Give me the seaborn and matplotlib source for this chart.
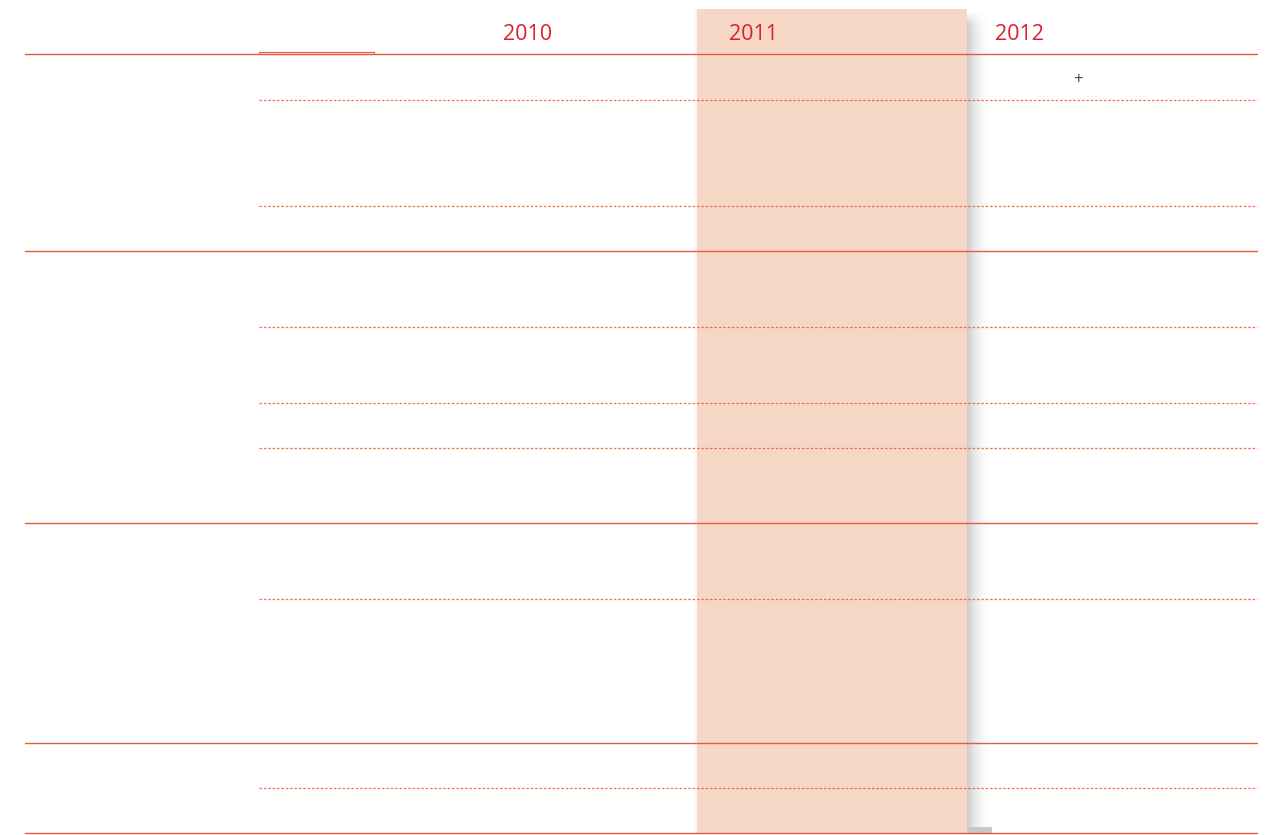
import numpy as np
import matplotlib.pyplot as plt
import seaborn as sns
from matplotlib.patches import Rectangle

# column headers of the table
years = ["2010", "2011", "2012"]
highlight_year = "2011"
note_mark = "+"

# layout (pixels) -------------------------------------------------------
W, H = 1274, 835
year_x = [528, 753, 1019]
solid_rules = [54, 251, 523, 743, 833]
dotted_rules = [100, 206, 327, 403, 448, 599, 788]
red = "#dc1f2e"
rule_col = "#e8583a"

sns.set_theme(style="white")
plt.rcParams["font.family"] = ["Open Sans", "DejaVu Sans"]

fig = plt.figure(figsize=(W / 100, H / 100), dpi=100)
ax = fig.add_axes([0, 0, 1, 1])
ax.set_xlim(0, W)
ax.set_ylim(H, 0)
ax.axis("off")

# highlighted column with soft shadow on the right
hx0, hx1, hy0, hy1 = 697, 967, 9, 833
gx = np.linspace(1, 0, 64) ** 2.2
gy = np.clip(np.linspace(0, 1, 400) * 60, 0, 1)
shadow = np.zeros((400, 64, 4))
shadow[..., :3] = 0.5
shadow[..., 3] = gy[:, None] * gx[None, :] * 0.4
ax.imshow(shadow, extent=(hx1, hx1 + 26, hy1 - 6, hy0 + 2), aspect="auto", zorder=1)
edge = np.zeros((1, 16, 4))
edge[..., :3] = 0.5
edge[..., 3] = np.linspace(0, 1, 16) ** 2 * 0.08
ax.imshow(edge, extent=(hx0 - 5, hx0, hy1, hy0), aspect="auto", zorder=1)
ax.add_patch(Rectangle((hx1, 827), 25, 6, color="#c8c8c8", lw=0, zorder=1))
ax.add_patch(Rectangle((hx0, hy0), hx1 - hx0, hy1 - hy0, color="#f6d7c6", lw=0, zorder=2))

# rules
for y in solid_rules:
    ax.plot([25, 1257], [y, y], color=rule_col, lw=1.0, zorder=3)
for y in dotted_rules:
    ax.plot([259, 1257], [y, y], color=rule_col, lw=0.9, ls=(0, (2, 1.5)), alpha=0.85, zorder=3)
ax.add_patch(Rectangle((259, 51.5), 115, 2.5, fill=False, ec=rule_col, lw=0.8, zorder=3))

# headers
for x, yr in zip(year_x, years):
    ax.text(x, 34, yr, color=red, fontsize=15.5, ha="center", va="center", zorder=4)
ax.text(1078, 80, note_mark, color="#444444", fontsize=12, ha="center", va="center", zorder=4)

fig.savefig("out.png", dpi=100, facecolor="white")
